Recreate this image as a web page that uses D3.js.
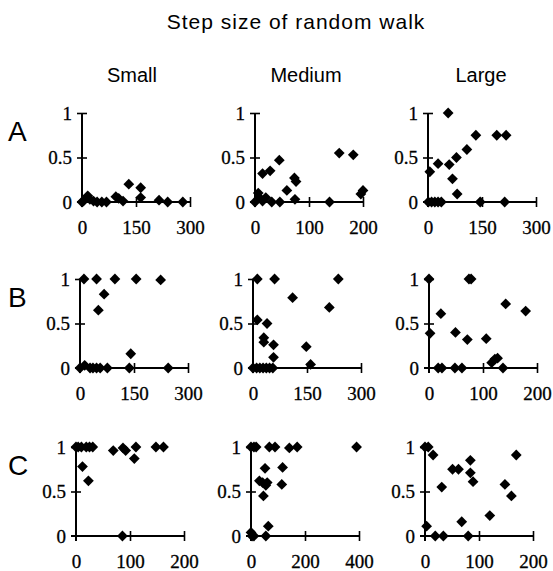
<!DOCTYPE html>
<html>
<head>
  <title>Step size of random walk</title>
  <script type="text/javascript" src="https://d3js.org/d3.v7.min.js"></script>
  <style>
    body { margin: 0; background: #fff; }
  </style>
</head>
<body>
<div class="chart"></div>
<script type="text/javascript">
// column headers, row labels and x axis maximum of each panel
var columns = ["Small", "Medium", "Large"];
var rows = ["A", "B", "C"];
var xMax = [[300, 200, 300], [300, 300, 200], [200, 400, 200]];
var yTicks = [0, 0.5, 1];

// points [x, y], one array per panel
var aSmall = [[0,0],[4,0.01],[16,0.07],[22,0.03],[32,0.01],[42,0],[55,0],[68,0],[94,0.06],[102,0.04],[114,0.01],[130,0.2],[163,0.16],[163,0.05],[214,0.02],[238,0],[280,0]];
var aMedium = [[0,0],[6,0.1],[8,0.05],[14,0.32],[14,0.01],[20,0.05],[28,0.35],[31,0],[45,0.47],[46,0],[59,0.13],[73,0.27],[76,0.23],[74,0.03],[138,0],[156,0.55],[182,0.53],[200,0.13],[196,0.09]];
var aLarge = [[56,1],[5,0.34],[28,0.43],[59,0.42],[79,0.5],[68,0.26],[81,0.09],[108,0.59],[133,0.75],[191,0.75],[217,0.75],[1,0],[10,0],[19,0],[28,0],[37,0],[145,0],[213,0]];
var bSmall = [[11,1],[46,1],[97,1],[156,1],[224,0.99],[67,0.83],[51,0.65],[141,0.16],[0,0],[13,0.03],[28,0],[36,0],[46,0],[56,0],[76,0],[137,0],[245,0]];
var bMedium = [[12,1],[60,1],[110,0.79],[237,1],[212,0.68],[12,0.54],[39,0.5],[30,0.34],[30,0.29],[57,0.26],[57,0.12],[148,0.24],[160,0.04],[0,0],[10,0],[19,0],[28,0],[37,0],[46,0],[55,0]];
var bLarge = [[0,1],[74,1],[78,1],[22,0.61],[2,0.39],[49,0.4],[71,0.32],[106,0.33],[142,0.72],[179,0.64],[116,0.06],[122,0.1],[127,0.11],[17,0],[24,0],[48,0],[61,0],[137,0]];
var cSmall = [[86,0],[0,1],[4,1],[10,1],[19,1],[25,1],[31,1],[69,0.96],[87,0.99],[92,0.96],[111,1],[108,0.87],[148,1],[162,1],[12,0.78],[23,0.62]];
var cMedium = [[0,1],[11,1],[19,1],[68,1],[89,1],[142,0.99],[171,1],[391,1],[52,0.76],[117,0.77],[31,0.62],[43,0.6],[60,0.6],[55,0.57],[114,0.58],[46,0.45],[64,0.11],[0,0.04],[11,0],[4,0],[55,0]];
var cLarge = [[0,1],[6,1],[15,0.91],[31,0.55],[51,0.75],[62,0.75],[84,0.85],[84,0.71],[89,0.61],[68,0.16],[120,0.23],[148,0.58],[160,0.45],[169,0.91],[3,0.11],[19,0],[34,0],[80,0]];
var panels = [[aSmall, aMedium, aLarge], [bSmall, bMedium, bLarge], [cSmall, cMedium, cLarge]];

const width = 553;
const height = 571;
// y axis position of each panel and the pixel rows for 1 and 0
const left = [[82, 255, 428], [80, 253, 429], [76, 251, 425]];
const top1 = [113, 279, 447];
const bottom0 = [202, 368, 536];
const panelW = 108;
const serif = "'Liberation Serif', 'DejaVu Serif', serif";
const sans = "'Liberation Sans', Arial, sans-serif";

const svg = d3.select('.chart')
    .append('svg')
    .attr('width', width)
    .attr('height', height);

svg.append('text')
    .attr('x', 296)
    .attr('y', 29)
    .attr('text-anchor', 'middle')
    .style('font-family', sans)
    .style('font-size', '21px')
    .style('letter-spacing', '1px')
    .text('Step size of random walk');

svg.selectAll('text.col')
    .data(columns)
    .enter()
    .append('text')
    .attr('class', 'col')
    .attr('x', (d, i) => [132, 306, 481][i])
    .attr('y', 82)
    .attr('text-anchor', 'middle')
    .style('font-family', sans)
    .style('font-size', '20px')
    .text(d => d);

svg.selectAll('text.row')
    .data(rows)
    .enter()
    .append('text')
    .attr('class', 'row')
    .attr('x', 8)
    .attr('y', (d, i) => top1[i] + 28)
    .style('font-family', sans)
    .style('font-size', '28px')
    .text(d => d);

// square turned 45 degrees, like the filled diamonds of the original
const diamond = d3.symbol().type(d3.symbolSquare).size(58);

panels.forEach(function(row, r) {
    row.forEach(function(data, c) {
        const max = xMax[r][c];
        const x = d3.scaleLinear().domain([0, max]).range([left[r][c], left[r][c] + panelW]);
        const y = d3.scaleLinear().domain([0, 1]).range([bottom0[r], top1[r]]);
        const g = svg.append('g');

        const xAxis = g.append('g')
            .attr('transform', 'translate(0,' + bottom0[r] + ')')
            .call(d3.axisBottom(x).tickValues([0, max / 2, max]).tickSize(0).tickPadding(19).tickFormat(d3.format('d')));
        xAxis.select('.domain').remove();
        xAxis.append('line')
            .attr('x1', x(0) - 5).attr('x2', x(max))
            .attr('stroke', '#000').attr('stroke-width', 2);
        xAxis.selectAll('.tick').filter(d => d > 0).append('line')
            .attr('y1', -5).attr('y2', 5)
            .attr('stroke', '#000').attr('stroke-width', 1.6);

        const yAxis = g.append('g')
            .attr('transform', 'translate(' + left[r][c] + ',0)')
            .call(d3.axisLeft(y).tickValues(yTicks).tickSize(0).tickPadding(10).tickFormat(d => d === 0.5 ? '0.5' : d3.format('d')(d)));
        yAxis.select('.domain').remove();
        yAxis.append('line')
            .attr('y1', y(0) + 5).attr('y2', y(1))
            .attr('stroke', '#000').attr('stroke-width', 2);
        yAxis.selectAll('.tick').filter(d => d > 0).append('line')
            .attr('x1', -5).attr('x2', 5)
            .attr('stroke', '#000').attr('stroke-width', 1.6);

        g.selectAll('.tick text')
            .style('font-family', serif)
            .style('font-size', '19px')
            .attr('fill', '#000')
            .attr('stroke', '#000')
            .attr('stroke-width', 0.3);

        g.selectAll('path.pt')
            .data(data)
            .enter()
            .append('path')
            .attr('class', 'pt')
            .attr('d', diamond)
            .attr('transform', d => 'translate(' + x(d[0]) + ',' + y(d[1]) + ') rotate(45)')
            .attr('fill', '#000');
    });
});
</script>
</body>
</html>
